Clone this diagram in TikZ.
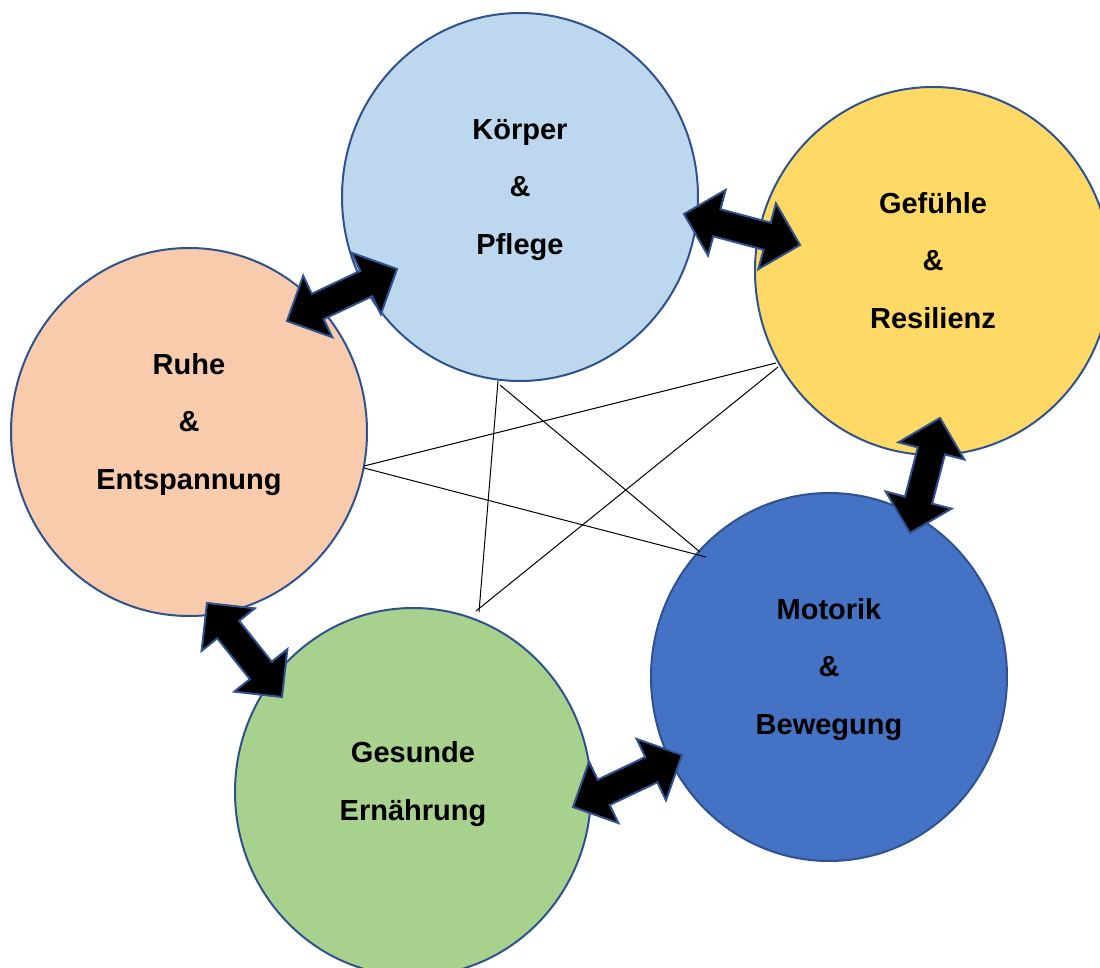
\documentclass[tikz,border=0pt]{standalone}
\usepackage{fontspec}
\setmainfont{Liberation Sans}
\usetikzlibrary{shapes.geometric,calc}

\definecolor{rim}{HTML}{2F528F}
\definecolor{cblue}{HTML}{BDD7EE}
\definecolor{cyellow}{HTML}{FFD966}
\definecolor{corange}{HTML}{F8CBAD}
\definecolor{cgreen}{HTML}{A9D18E}
\definecolor{cdblue}{HTML}{4472C4}

\begin{document}
\begin{tikzpicture}[x=0.5pt,y=-0.5pt]
\begin{scope}

\tikzstyle{bubble} = [ellipse,minimum width=178pt,minimum height=184pt,inner sep=0pt,draw=rim,line width=1pt];
\tikzstyle{word} = [align=center,font=\bfseries\fontsize{14.5}{28.6}\selectfont,inner sep=0pt,anchor=base];
\tikzstyle{thin} = [draw=black,line width=0.5pt];
\tikzstyle{fat} = [fill=black,draw=rim,line width=1pt,line join=miter];

\useasboundingbox (0,0) rectangle (1100,968);
\clip (0,0) rectangle (1100,968);

\node [bubble,fill=cblue] (k) at (520,197) {};
\node [bubble,fill=cyellow] (f) at (933,271) {};
\node [bubble,fill=corange] (r) at (189,432) {};
\node [bubble,fill=cdblue] (m) at (829,677) {};
\node [bubble,fill=cgreen] (g) at (413,792) {};

\node [word] (k1) at ([yshift=-28.6pt]k.center) {Körper\\\&\\Pflege};
\node [word] (f1) at ([yshift=-28.6pt]f.center) {Gefühle\\\&\\Resilienz};
\node [word] (r1) at ([yshift=-28.6pt]r.center) {Ruhe\\\&\\Entspannung};
\node [word] (m1) at ([yshift=-28.6pt]m.center) {Motorik\\\&\\Bewegung};
\node [word] (g1) at ([yshift=-14pt]g.center) {Gesunde\\Ernährung};

\coordinate (k-g) at (498,381);
\coordinate (g-k) at (479,612);
\coordinate (k-m) at (500,385);
\coordinate (m-k) at (700,552);
\coordinate (f-r) at (776,363);
\coordinate (r-f) at (364,466);
\coordinate (f-g) at (778,367);
\coordinate (g-f) at (476,611);
\coordinate (r-m) at (364,468);
\coordinate (m-r) at (706,557);

\draw [thin] (k-g) -- (g-k);
\draw [thin] (k-m) -- (m-k);
\draw [thin] (f-r) -- (r-f);
\draw [thin] (f-g) -- (g-f);
\draw [thin] (r-m) -- (m-r);

\coordinate (a1) at (287,321);
\coordinate (a2) at (397,269);
\coordinate (b1) at (684,214);
\coordinate (b2) at (800,245);
\coordinate (c1) at (940,418);
\coordinate (c2) at (910,533);
\coordinate (d1) at (682,755);
\coordinate (d2) at (573,807);
\coordinate (e1) at (282,697);
\coordinate (e2) at (207,603);

\foreach \p/\q in {a1/a2,b1/b2,c1/c2,d1/d2,e1/e2}
  \draw [fat] (\p) -- ($(\p)!17pt!(\q)!17pt!90:(\q)$) -- ($(\p)!17pt!(\q)!7pt!90:(\q)$)
    -- ($(\q)!17pt!(\p)!7pt!-90:(\p)$) -- ($(\q)!17pt!(\p)!17pt!-90:(\p)$) -- (\q)
    -- ($(\q)!17pt!(\p)!17pt!90:(\p)$) -- ($(\q)!17pt!(\p)!7pt!90:(\p)$)
    -- ($(\p)!17pt!(\q)!7pt!-90:(\q)$) -- ($(\p)!17pt!(\q)!17pt!-90:(\q)$) -- cycle;

\end{scope}
\end{tikzpicture}
\end{document}
